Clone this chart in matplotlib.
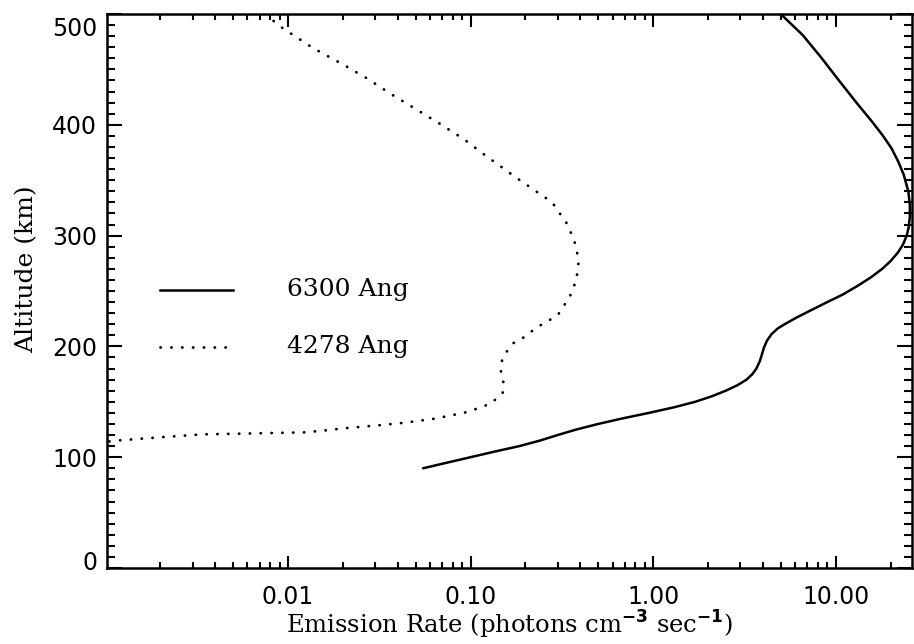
import matplotlib
matplotlib.use("Agg")
import matplotlib.pyplot as plt
import matplotlib.transforms as mtransforms
from matplotlib.ticker import FixedLocator, LogLocator, MultipleLocator, NullFormatter

# 6300 Ang emission profile (altitude km, rate)
alt6300 = [90, 95, 100, 105, 110, 115, 120, 125, 130, 135, 140, 145, 150, 155, 160, 165,
           170, 175, 180, 187, 193, 199, 205, 211, 216, 220, 226, 232, 240, 247, 255, 262,
           270, 277, 285, 292, 300, 307, 317, 328, 340, 355, 367, 379, 391, 403, 420, 442,
           460, 481, 500]
rate6300 = [0.055, 0.074, 0.10, 0.135, 0.185, 0.24, 0.30, 0.38, 0.50, 0.68, 0.95, 1.30,
            1.70, 2.10, 2.50, 2.90, 3.25, 3.50, 3.68, 3.85, 3.95, 4.05, 4.2, 4.45, 4.8,
            5.25, 6.1, 7.2, 9.0, 11.0, 13.3, 15.5, 18.0, 20.0, 22.0, 23.4, 24.5, 25.1,
            25.5, 25.5, 25.0, 23.6, 22.0, 20.2, 18.0, 15.8, 13.0, 10.2, 8.4, 6.6, 5.0]

# 4278 Ang emission profile
alt4278 = [112, 115, 118, 120.6, 122.4, 124, 126, 128.5, 131, 133, 135, 137, 140, 145,
           148.5, 153, 158, 166.5, 175.5, 183, 192, 203, 208, 217, 228, 245, 260, 275,
           290, 310, 330, 354, 373.5, 387, 400.5, 417, 428, 442, 454.5, 469, 487, 496, 502]
rate4278 = [0.0008, 0.00115, 0.0020, 0.0034, 0.0122, 0.0157, 0.020, 0.030, 0.043, 0.053,
            0.065, 0.074, 0.092, 0.114, 0.129, 0.139, 0.150, 0.152, 0.147, 0.146, 0.152,
            0.172, 0.195, 0.23, 0.30, 0.35, 0.38, 0.39, 0.38, 0.34, 0.28, 0.172, 0.118,
            0.092, 0.0685, 0.047, 0.0365, 0.027, 0.020, 0.0138, 0.0094, 0.0080, 0.0075]

xticks = [0.01, 0.1, 1.0, 10.0]
xlabels = ["0.01", "0.10", "1.00", "10.00"]
yticks = [0, 100, 200, 300, 400, 500]

dots = (0, (0.1, 3.8))

fig = plt.figure(figsize=(9.14, 6.44), dpi=100)
ax = fig.add_axes([107/914, 1-568/644, 805/914, 554/644])

ax.plot(rate6300, alt6300, color='black', lw=1.8, solid_capstyle='round')
ax.plot(rate4278, alt4278, color='black', lw=2.0, linestyle=dots, dash_capstyle='round')

ax.set_xscale('log')
ax.set_xlim(0.00102, 26.2)
ax.set_ylim(0, 500)

ax.xaxis.set_major_locator(FixedLocator(xticks))
ax.set_xticklabels(xlabels)
ax.xaxis.set_minor_locator(LogLocator(base=10, subs=range(2, 10)))
ax.xaxis.set_minor_formatter(NullFormatter())
ax.set_yticks(yticks)
ax.yaxis.set_minor_locator(MultipleLocator(10))

ax.tick_params(which='both', direction='in', top=True, right=True, width=1.5, labelsize=17)
ax.tick_params(axis='x', which='major', length=9, pad=12)
ax.tick_params(axis='x', which='minor', length=4.5)
ax.tick_params(axis='y', which='major', length=11, pad=7)
ax.tick_params(axis='y', which='minor', length=5.5)
for lab in ax.get_xticklabels() + ax.get_yticklabels():
    lab.set_family('DejaVu Sans')
for s in ax.spines.values():
    s.set_linewidth(1.8)

# end labels of the y axis sit a little inside, as in the original
ylabs = ax.get_yticklabels()
ylabs[0].set_transform(ylabs[0].get_transform() +
                       mtransforms.ScaledTranslation(0, 0.07, fig.dpi_scale_trans))
ylabs[-1].set_transform(ylabs[-1].get_transform() +
                        mtransforms.ScaledTranslation(0, -0.12, fig.dpi_scale_trans))

ax.set_xlabel(r'Emission Rate (photons cm$^{\mathbf{-3}}$ sec$^{\mathbf{-1}}$)',
              family='DejaVu Serif', fontsize=17.5, labelpad=0)
ax.set_ylabel('Altitude (km)', family='DejaVu Serif', fontsize=18)
ax.yaxis.set_label_coords(-0.085, 0.54)

# legend drawn by hand like the original
ax.plot([0.066, 0.156], [0.502, 0.502], transform=ax.transAxes, color='black', lw=1.8)
ax.plot([0.066, 0.152], [0.399, 0.399], transform=ax.transAxes, color='black', lw=2.0,
        linestyle=dots, dash_capstyle='round')
ax.text(0.224, 0.502, '6300 Ang', transform=ax.transAxes, family='DejaVu Serif',
        fontsize=18, va='center')
ax.text(0.224, 0.399, '4278 Ang', transform=ax.transAxes, family='DejaVu Serif',
        fontsize=18, va='center')

fig.savefig('out.png', dpi=100)
